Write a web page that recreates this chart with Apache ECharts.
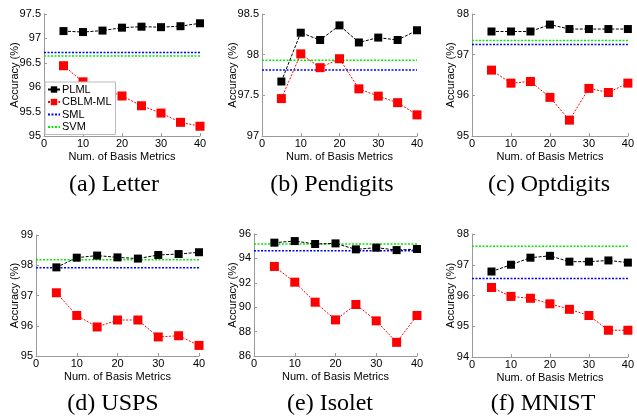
<!DOCTYPE html>
<html><head><meta charset="utf-8">
<script src="https://cdn.jsdelivr.net/npm/echarts@6/dist/echarts.min.js"></script>
<style>html,body{margin:0;padding:0;background:#fff}#c{width:637px;height:417px}</style>
</head><body><div id="c"></div>
<script>
const xs = [5,10,15,20,25,30,35,40];
const names = ['Letter','Pendigits','Optdigits','USPS','Isolet','MNIST'];
const letters = ['a','b','c','d','e','f'];
const plml = [
  [97.15,97.13,97.16,97.22,97.24,97.23,97.25,97.31],
  [97.67,98.27,98.18,98.36,98.15,98.21,98.18,98.30],
  [97.57,97.57,97.57,97.74,97.63,97.63,97.63,97.63],
  [97.93,98.25,98.32,98.26,98.22,98.34,98.37,98.43],
  [95.29,95.42,95.18,95.23,94.74,94.88,94.68,94.77],
  [96.78,97.00,97.23,97.29,97.10,97.10,97.14,97.07]
];
const cblm = [
  [96.44,96.11,95.97,95.82,95.62,95.47,95.28,95.20],
  [97.46,98.01,97.84,97.95,97.58,97.49,97.41,97.26],
  [96.62,96.30,96.34,95.95,95.39,96.17,96.07,96.30],
  [97.09,96.34,95.96,96.19,96.19,95.63,95.67,95.35],
  [93.34,92.05,90.41,88.96,90.22,88.88,87.12,89.32],
  [96.26,95.97,95.91,95.73,95.55,95.35,94.87,94.87]
];
const sml = [96.71,97.81,97.25,97.92,94.63,96.55];
const svm = [96.64,97.93,97.35,98.18,95.18,97.60];
const yMin = [95,97,95,95,86,94];
const yMax = [97.5,98.5,98,99,96,98];
const yStep = [0.5,0.5,1,1,2,1];
const xTicks = {min:0,max:40,step:10};

// layout
const grids = [
  {left:44,top:14,width:156,height:122},
  {left:262,top:14,width:155,height:122},
  {left:472,top:14,width:161,height:122},
  {left:36,top:235,width:163,height:121},
  {left:254,top:234,width:163,height:122},
  {left:472,top:234,width:163,height:123}
];
const nameGaps = [23.5,23.5,15.5,15.5,15.5,15.5];
const caps = [[114,185],[332,185],[549,185],[113,404],[330,404],[543,404]];
const axisCol = '#9a9a9a';
const F = 'Liberation Sans, Arial, sans-serif';

const xAxis=[], yAxis=[], series=[], graphic=[];
for(let i=0;i<6;i++){
  xAxis.push({gridIndex:i,type:'value',min:xTicks.min,max:xTicks.max,interval:xTicks.step,
    name:'Num. of Basis Metrics',nameLocation:'middle',nameGap:15,nameMoveOverlap:false,
    nameTextStyle:{fontFamily:F,fontSize:11,color:'#000'},
    axisLine:{lineStyle:{color:axisCol,width:1}},
    axisTick:{inside:true,length:3,lineStyle:{color:axisCol}},
    axisLabel:{fontFamily:F,fontSize:11,color:'#000',margin:2},
    splitLine:{show:false}});
  yAxis.push({gridIndex:i,type:'value',min:yMin[i],max:yMax[i],interval:yStep[i],
    name:'Accuracy (%)',nameLocation:'middle',nameGap:nameGaps[i],nameMoveOverlap:false,
    nameTextStyle:{fontFamily:F,fontSize:11,color:'#000'},
    axisLine:{show:true,lineStyle:{color:axisCol,width:1}},
    axisTick:{show:true,inside:true,length:3,lineStyle:{color:axisCol}},
    axisLabel:{fontFamily:F,fontSize:11,color:'#000',margin:3},
    splitLine:{show:false}});
  series.push({name:'SML',type:'line',xAxisIndex:i,yAxisIndex:i,showSymbol:false,symbol:'none',
    data:[[xTicks.min,sml[i]],[xTicks.max,sml[i]]],
    lineStyle:{color:'#0000ff',width:1.5,type:[2,1.5]},itemStyle:{color:'#0000ff'},z:2});
  series.push({name:'SVM',type:'line',xAxisIndex:i,yAxisIndex:i,showSymbol:false,symbol:'none',
    data:[[xTicks.min,svm[i]],[xTicks.max,svm[i]]],
    lineStyle:{color:'#00ee00',width:1.5,type:[2,1.5]},itemStyle:{color:'#00ee00'},z:2});
  series.push({name:'PLML',type:'line',xAxisIndex:i,yAxisIndex:i,symbol:'rect',symbolSize:8,
    data:xs.map((x,k)=>[x,plml[i][k]]),
    lineStyle:{color:'#000',width:1,type:[3,1.5]},itemStyle:{color:'#000'},z:4});
  series.push({name:'CBLM-ML',type:'line',xAxisIndex:i,yAxisIndex:i,symbol:'rect',symbolSize:9,
    data:xs.map((x,k)=>[x,cblm[i][k]]),
    lineStyle:{color:'#ff0000',width:1,type:[2,1.5]},itemStyle:{color:'#ff0000'},z:3});
  graphic.push({type:'text',x:caps[i][0],y:caps[i][1],
    style:{text:'('+letters[i]+') '+names[i],font:'24px "Liberation Serif", "Times New Roman", serif',
      fill:'#000',textAlign:'center',textVerticalAlign:'middle'}});
}

const chart = echarts.init(document.getElementById('c'));
chart.setOption({
  animation:false,
  backgroundColor:'#fff',
  grid:grids,
  xAxis, yAxis, series, graphic,
  legend:{left:45,top:82,orient:'vertical',
    data:['PLML','CBLM-ML',{name:'SML',itemStyle:{opacity:0}},{name:'SVM',itemStyle:{opacity:0}}],
    backgroundColor:'#fff',borderColor:'#bbb',borderWidth:1,padding:[2,4,2,2],
    itemGap:1.5,itemWidth:12,itemHeight:8,
    textStyle:{fontFamily:F,fontSize:11,lineHeight:11,color:'#000',padding:[0,0,0,-3]}}
});
</script></body></html>
